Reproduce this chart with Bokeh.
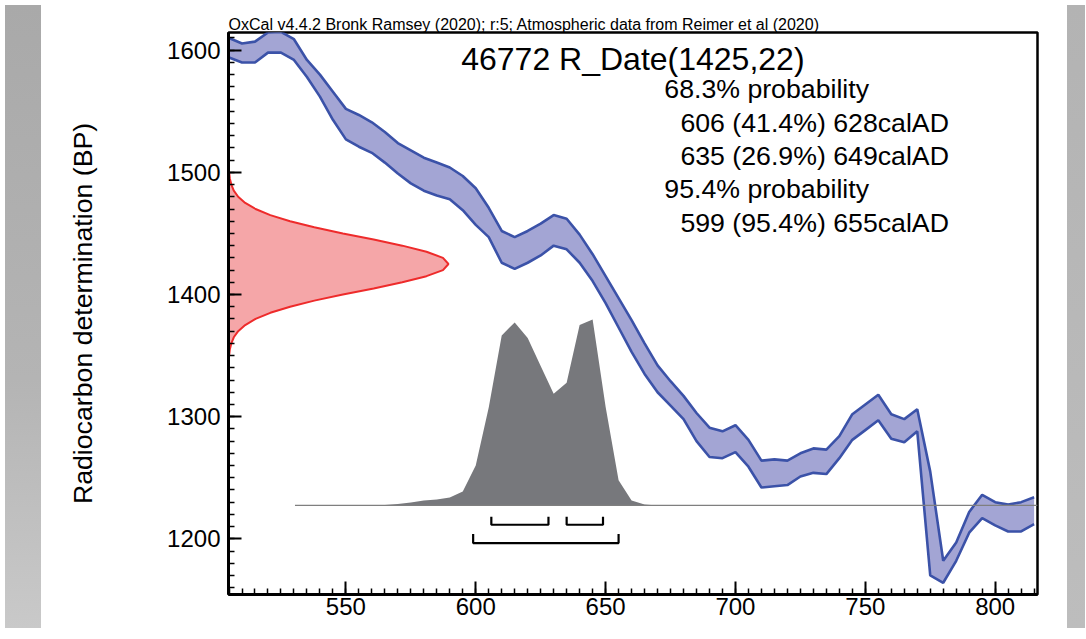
from bokeh.plotting import figure
from bokeh.models import SingleIntervalTicker, Range1d, Div, Label
from bokeh.layouts import row
from bokeh.embed import file_html
from bokeh.resources import INLINE

# ---------------- data ----------------
cal_years = [505, 510, 515, 520, 525, 530, 535, 540, 545, 550, 555, 560, 565, 570, 575,
             580, 585, 590, 595, 600, 605, 610, 615, 620, 625, 630, 635, 640, 645, 650,
             655, 660, 665, 670, 675, 680, 685, 690, 695, 700, 705, 710, 715, 720, 725,
             730, 735, 740, 745, 750, 755, 760, 765, 770, 775, 780, 785, 790, 795, 800,
             805, 810, 815]
curve_upper = [1610, 1605.5, 1607, 1614.5, 1615, 1609, 1592, 1580, 1566, 1552, 1547, 1541, 1533, 1524, 1518,
               1512, 1508, 1504, 1497, 1487, 1471, 1452, 1447, 1452, 1458, 1465, 1462, 1449, 1433, 1415,
               1397, 1379, 1360, 1342, 1329, 1317, 1303, 1291, 1288, 1293, 1281, 1264, 1265, 1264, 1270,
               1274, 1273, 1284, 1302, 1310, 1318, 1302, 1298, 1306, 1255, 1182, 1197, 1222, 1236, 1230,
               1228, 1230, 1234]
curve_lower = [1594, 1590, 1590, 1598, 1598, 1592, 1578, 1562, 1543, 1527, 1521, 1516, 1508, 1499, 1491,
               1485, 1481, 1478, 1469, 1457, 1447, 1426, 1421, 1426, 1432, 1440, 1437, 1426, 1411, 1393,
               1373, 1353, 1335, 1320, 1309, 1298, 1280, 1267, 1266, 1271, 1259, 1242, 1243, 1244, 1251,
               1254, 1253, 1266, 1281, 1289, 1297, 1282, 1279, 1288, 1170, 1164, 1182, 1205, 1217, 1211,
               1206, 1206, 1212]

# radiocarbon date distribution (relative density)
rdate_bp = [1500, 1495, 1490, 1485, 1480, 1475, 1470, 1465, 1460, 1455, 1450, 1445, 1440, 1435, 1430,
            1425, 1420, 1415, 1410, 1405, 1400, 1395, 1390, 1385, 1380, 1375, 1370, 1365, 1360, 1355, 1350]
rdate_dens = [0.003, 0.006, 0.013, 0.024, 0.044, 0.076, 0.123, 0.19, 0.28, 0.39, 0.52, 0.66, 0.79, 0.90, 0.975,
              1.0, 0.975, 0.90, 0.79, 0.66, 0.52, 0.39, 0.28, 0.19, 0.123, 0.076, 0.044, 0.024, 0.013, 0.006, 0.003]

# calibrated distribution (relative probability)
post_years = [560, 565, 570, 575, 580, 585, 590, 595, 600, 605, 610, 615, 620, 625, 630, 635,
              640, 645, 650, 655, 660, 665, 670]
post_prob = [0.0, 0.003, 0.008, 0.016, 0.027, 0.032, 0.043, 0.075, 0.215, 0.527, 0.914, 0.984, 0.90, 0.75,
             0.60, 0.66, 0.97, 1.0, 0.53, 0.135, 0.027, 0.005, 0.0]

range68_from = [606, 635]
range68_to = [628, 649]
range95_from = [599]
range95_to = [655]

title_text = "OxCal v4.4.2 Bronk Ramsey (2020); r:5; Atmospheric data from Reimer et al (2020)"
heading = "46772 R_Date(1425,22)"
summary_lines = ["68.3% probability", "606 (41.4%) 628calAD", "635 (26.9%) 649calAD",
                 "95.4% probability", "599 (95.4%) 655calAD"]
summary_indent = [False, True, True, False, True]

# ---------------- styling / layout constants ----------------
X0, X1 = 504.8, 816.3
Y0, Y1 = 1154.4, 1614.5
RED_SCALE = 84.7          # years for peak width of radiocarbon density
POST_BASE = 1227.3        # BP of baseline of calibrated distribution
POST_SCALE = 152.3        # BP height of peak
FONT = "Liberation Sans"

p = figure(frame_width=809, frame_height=562, output_backend="svg", toolbar_location=None,
           x_range=Range1d(X0, X1), y_range=Range1d(Y0, Y1),
           min_border_left=182, min_border_right=25, min_border_top=32, min_border_bottom=29)
p.grid.visible = False
p.background_fill_color = "white"
p.border_fill_color = "white"
p.outline_line_color = "black"
p.outline_line_width = 2.5
p.outline_line_alpha = 1

p.title.text = title_text
p.title.text_font = "Liberation Sans"
p.title.text_font_size = "16px"
p.title.text_font_style = "normal"
p.title.text_color = "black"
p.title.align = "left"
p.title.standoff = 0
p.title.offset = 0

# calibration curve band
p.varea(x=cal_years, y1=curve_lower, y2=curve_upper, fill_color="#a3a5d4", fill_alpha=1)
p.line(x=cal_years, y=curve_upper, line_color="#3b52a8", line_width=2.6)
p.line(x=cal_years, y=curve_lower, line_color="#3b52a8", line_width=2.6)

# radiocarbon date (red)
red_x = [X0 + d * RED_SCALE for d in rdate_dens]
p.harea(y=rdate_bp, x1=[X0] * len(rdate_bp), x2=red_x, fill_color="#f5a6a8", fill_alpha=1)
p.line(x=red_x, y=rdate_bp, line_color="#ee2b2b", line_width=2)

# calibrated distribution (grey)
post_top = [POST_BASE + v * POST_SCALE for v in post_prob]
p.varea(x=post_years, y1=[POST_BASE] * len(post_years), y2=post_top, fill_color="#77787c", fill_alpha=1)
p.line(x=[530.4, X1], y=[POST_BASE, POST_BASE], line_color="#7f7f7f", line_width=1.3)

# range brackets
def bracket(a, b, yline, ytop):
    p.line(x=[a, a, b, b], y=[ytop, yline, yline, ytop], line_color="black", line_width=2.2)

for a, b in zip(range68_from, range68_to):
    bracket(a, b, 1211.5, 1218.0)
for a, b in zip(range95_from, range95_to):
    bracket(a, b, 1196.5, 1204.0)

# texts
p.add_layout(Label(x=660.5, y=1593.0, text=heading, text_font=FONT, text_font_size="32px",
                   text_align="center", text_baseline="alphabetic", text_color="black"))
base_y = [1568.2, 1540.8, 1513.4, 1486.0, 1458.6]
for t, ind, yy in zip(summary_lines, summary_indent, base_y):
    p.add_layout(Label(x=(678.8 if ind else 672.6), y=yy, text=t, text_font=FONT,
                       text_font_size="26.7px", text_align="left", text_baseline="alphabetic",
                       text_color="black"))

# axes
for ax, tick in ((p.xaxis[0], SingleIntervalTicker(interval=50, num_minor_ticks=10)),
                 (p.yaxis[0], SingleIntervalTicker(interval=100, num_minor_ticks=10))):
    ax.ticker = tick
    ax.axis_line_width = 3
    ax.axis_line_color = "black"
    ax.major_tick_in = 13
    ax.major_tick_out = 0
    ax.minor_tick_in = 6
    ax.minor_tick_out = 0
    ax.major_tick_line_width = 2
    ax.minor_tick_line_width = 1.5
    ax.major_label_text_font = FONT
    ax.major_label_text_font_size = "24px"
    ax.major_label_text_color = "black"

p.xaxis.major_label_standoff = 3
p.yaxis.major_label_standoff = 8
p.yaxis.axis_label = "Radiocarbon determination (BP)"
p.yaxis.axis_label_text_font = FONT
p.yaxis.axis_label_text_font_size = "26.7px"
p.yaxis.axis_label_text_font_style = "normal"
p.yaxis.axis_label_text_color = "black"
p.yaxis.axis_label_standoff = 66

left_strip = Div(text="", width=36, height=623,
                 styles={"background": "linear-gradient(#a9a9a9, #b4b4b4 60%, #c9c9c9)"})
right_strip = Div(text="", width=18, height=623,
                  styles={"background": "linear-gradient(#b3b3b3, #bdbdbd)"})

layout = row(left_strip, p, right_strip)
open("out.html", "w").write(file_html(layout, INLINE))
